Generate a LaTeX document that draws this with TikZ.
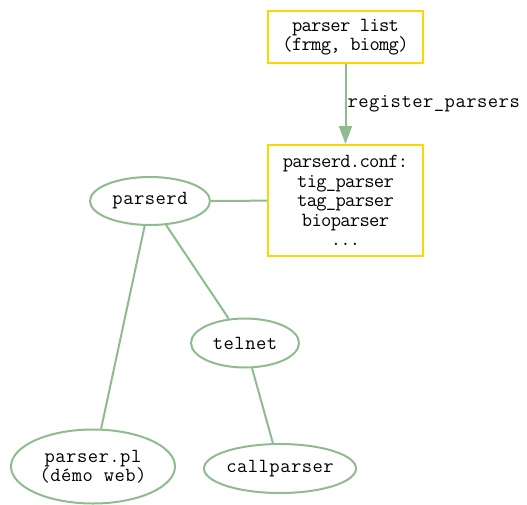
\documentclass[tikz,border=0pt]{standalone}
\usepackage{fontspec}
\usetikzlibrary{shapes.geometric,arrows.meta}
\newfontfamily\boxfont{Latin Modern Mono}[LetterSpace=-3.5]
\newfontfamily\ellfont{Latin Modern Mono}[LetterSpace=2.5]
\definecolor{edgegreen}{HTML}{8FBC8F}
\definecolor{boxgold}{HTML}{FFD700}
\tikzset{
  conf/.style={draw=boxgold, line width=2pt, rectangle, align=center,
    inner sep=0pt, font=\boxfont\fontsize{20pt}{19.5pt}\selectfont},
  proc/.style={draw=edgegreen, line width=2pt, ellipse, align=center,
    inner sep=0pt, font=\ellfont\fontsize{20pt}{19.5pt}\selectfont},
  link/.style={draw=edgegreen, line width=2pt},
}
\begin{document}
\begin{tikzpicture}[x=1pt, y=-1pt]
\useasboundingbox (0,0) rectangle (527,504);

\node[conf, minimum width=155pt, minimum height=52pt] (list) at (345.5,37)
  {parser list\\(frmg, biomg)};
\node[conf, minimum width=155pt, minimum height=111pt] (conf) at (345.5,200.5)
  {parserd.conf:\\tig\_parser\\tag\_parser\\bioparser\\...};

\node[proc, minimum width=120pt, minimum height=48pt] (parserd) at (150,201) {parserd};
\node[proc, minimum width=108pt, minimum height=49pt] (telnet) at (245,343) {telnet};
\node[proc, minimum width=164pt, minimum height=74pt] (web) at (93,466.5)
  {parser.pl\\(démo web)};
\node[proc, minimum width=152pt, minimum height=49pt] (call) at (280,468.5) {callparser};

\draw[link, -{Triangle[width=13pt,length=18pt]}, edgegreen] (list) -- (conf)
  node[midway, right, inner sep=1pt, font=\ellfont\fontsize{20pt}{19.5pt}\selectfont, text=black] {register\_parsers};
\draw[link] (parserd) -- (conf);
\draw[link] (parserd) -- (web);
\draw[link] (parserd) -- (telnet);
\draw[link] (telnet) -- (call);
\end{tikzpicture}
\end{document}
